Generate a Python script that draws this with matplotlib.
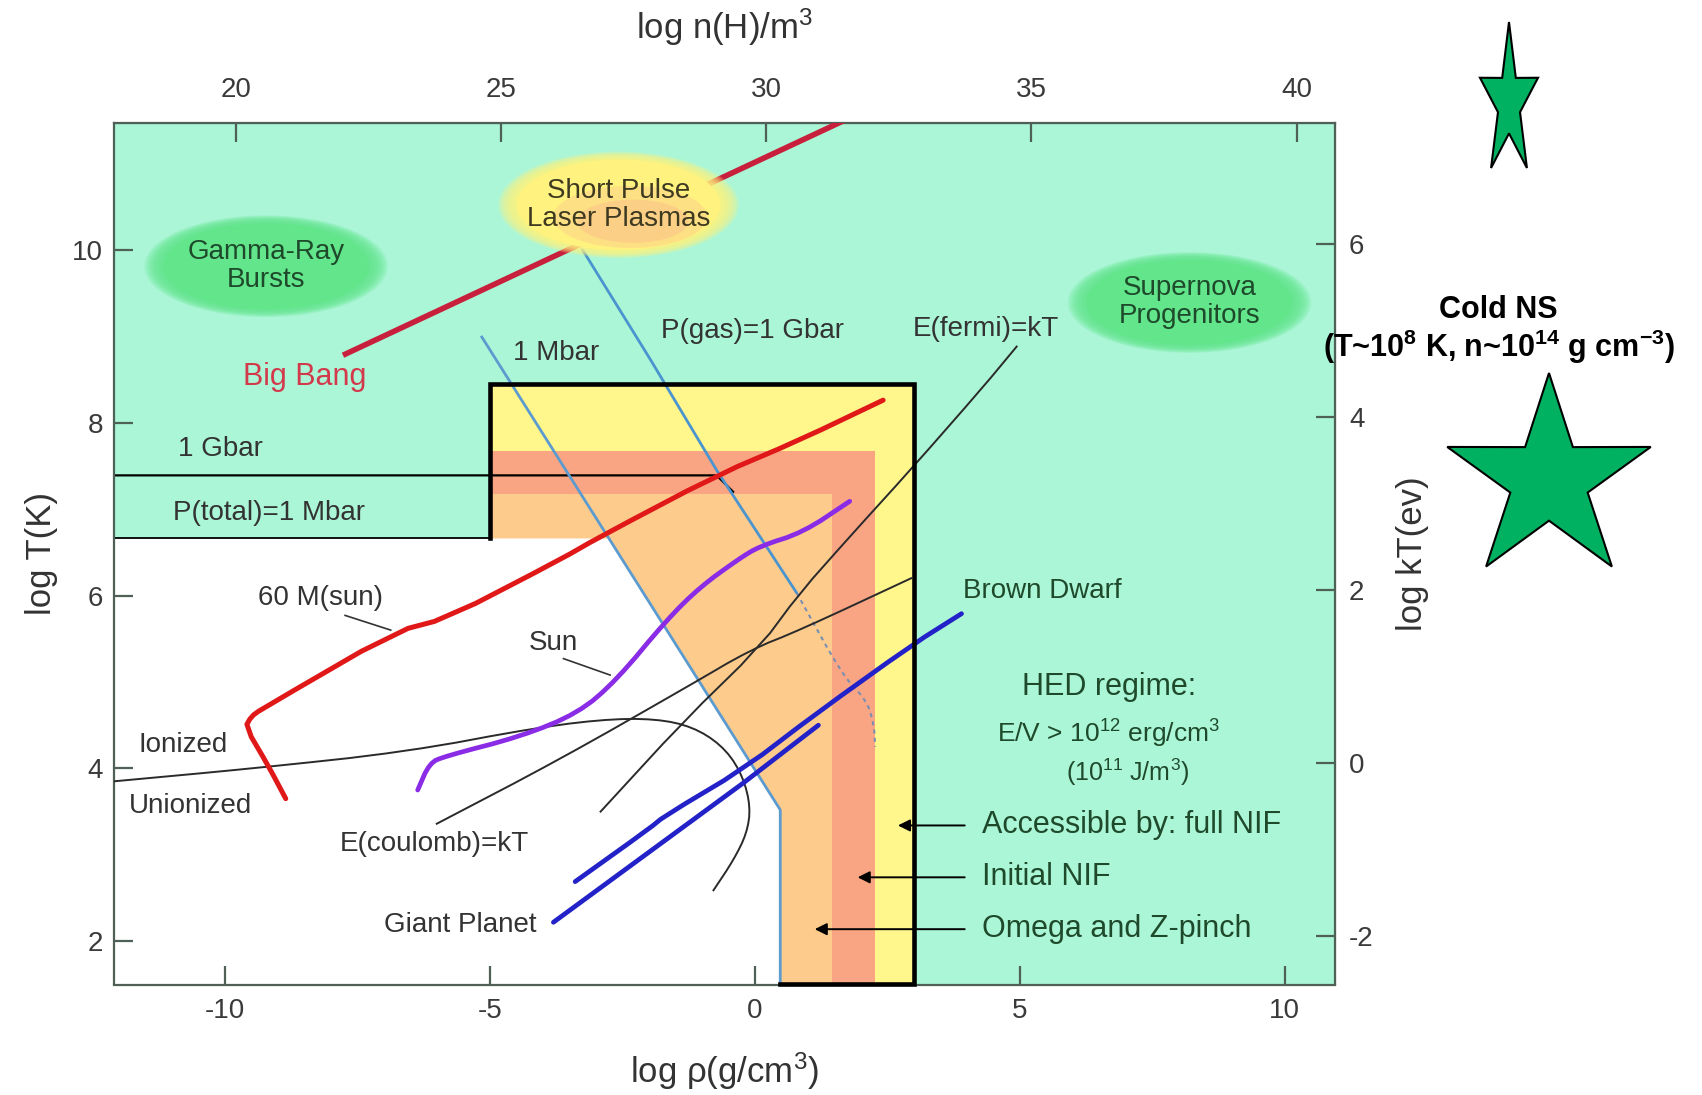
import matplotlib
matplotlib.use('Agg')
import matplotlib.pyplot as plt
from matplotlib.patches import Ellipse, Rectangle, Polygon
import numpy as np

plt.rcParams['font.family'] = ['Liberation Sans', 'DejaVu Sans']
plt.rcParams['mathtext.fontset'] = 'custom'
plt.rcParams['mathtext.rm'] = 'Liberation Sans'
plt.rcParams['mathtext.it'] = 'Liberation Sans:italic'
plt.rcParams['mathtext.bf'] = 'Liberation Sans:bold'
plt.rcParams['axes.unicode_minus'] = False

# axes: log rho (g/cm3) vs log T (K)
x_range = (-12.09, 10.95)
y_range = (1.50, 11.47)
rho_ticks = [-10, -5, 0, 5, 10]
t_ticks = [2, 4, 6, 8, 10]
nh_ticks = [20, 25, 30, 35, 40]
kt_ticks = [-2, 0, 2, 4, 6]
nh_offset = 29.78    # log n(H)/m3 = log rho + offset
kt_offset = 4.065    # log kT(eV) = log T - offset

# HED regions
hed_box = (-5.0, 3.0, 8.45)        # left, right, top
initial_nif = (2.27, 7.67)         # right, top
omega_zpinch = (1.45, 7.18)        # right, top
gbar_level = 7.39
ptotal_level = 6.66

# curves
bigbang_x = [-7.77, 1.70]
bigbang_y = [8.78, 11.50]
msun60_x = [-8.85, -9.17, -9.61, -9.50, -9.32, -6.79, -5.80, -3.69, -2.92, -0.72, 0.85, 2.42]
msun60_y = [3.65, 4.02, 4.48, 4.60, 4.68, 5.58, 5.74, 6.41, 6.68, 7.39, 7.80, 8.26]
sun_x = [-6.36, -6.14, -5.85, -4.41, -3.33, -2.61, -1.66, -1.03, -0.31, 0.09, 0.91, 1.79]
sun_y = [3.75, 4.06, 4.14, 4.37, 4.64, 5.02, 5.72, 6.10, 6.42, 6.57, 6.73, 7.09]
brown_x = [-3.39, -2.0, -1.7, -0.2, 1.17, 2.97, 3.9]
brown_y = [2.69, 3.30, 3.45, 4.00, 4.64, 5.43, 5.79]
giant_x = [-3.80, -0.22, 1.20]
giant_y = [2.22, 3.83, 4.50]
ion_x = [-12.1, -9.46, -6.58, -4.05, -2.61, -1.66, -1.03, -0.53, -0.22, -0.08, -0.15, -0.40, -0.78]
ion_y = [3.85, 4.00, 4.19, 4.48, 4.58, 4.56, 4.44, 4.21, 3.90, 3.55, 3.25, 2.94, 2.59]
coul_x = [-6.0, -3.69, -1.23, -0.09, 0.85, 2.95]
coul_y = [3.36, 4.10, 4.96, 5.37, 5.60, 6.20]
fermi_x = [-2.91, -1.35, 0.10, 0.85, 1.79, 2.96, 4.29, 4.94]
fermi_y = [3.50, 4.54, 5.41, 6.03, 6.68, 7.47, 8.40, 8.88]
mbar_x = [-5.15, 0.48, 0.48]
mbar_y = [8.99, 3.52, 1.50]
pgas_x = [-3.25, -1.97, -0.72, 0.79]
pgas_y = [10.00, 8.73, 7.45, 6.03]
pgas_dot_x = [0.79, 1.67, 2.11, 2.25, 2.27]
pgas_dot_y = [6.03, 5.06, 4.79, 4.50, 4.25]
gbar_x = [-12.1, -0.72, -0.41]
gbar_y = [gbar_level, gbar_level, 7.20]

# facility arrows
facility_names = ['Accessible by: full NIF', 'Initial NIF', 'Omega and Z-pinch']
facility_y = [3.34, 2.74, 2.14]
facility_tip = [2.70, 1.94, 1.13]

aqua = '#abf6d7'
yellow = '#fff68c'
salmon = '#f9a584'
orange = '#fdcb8c'
green = '#62e58b'
spine_c = '#4f6157'
txt = '#333333'
dkgreen = '#1e4a2b'


def chaikin(xs, ys, n=2):
    # corner cutting so the hand drawn curves look smooth
    p = np.column_stack([xs, ys]).astype(float)
    for _ in range(n):
        q = 0.75 * p[:-1] + 0.25 * p[1:]
        r = 0.25 * p[:-1] + 0.75 * p[1:]
        mid = np.empty((2 * len(q), 2))
        mid[0::2] = q
        mid[1::2] = r
        p = np.vstack([p[:1], mid, p[-1:]])
    return p[:, 0], p[:, 1]


fig = plt.figure(figsize=(17.02, 10.95), dpi=100)
ax = fig.add_axes([114 / 1702, 1 - 984.5 / 1095, (1335.2 - 114) / 1702, (984.5 - 122.7) / 1095])
ax.set_xlim(*x_range)
ax.set_ylim(*y_range)
ax.set_facecolor(aqua)
x0, x1 = x_range
y0, y1 = y_range

left, right, top = hed_box
ax.add_patch(Rectangle((left, y0), right - left, top - y0, fc=yellow, ec='none', zorder=1))
ax.add_patch(Rectangle((left, y0), initial_nif[0] - left, initial_nif[1] - y0, fc=salmon, ec='none', zorder=1.1))
ax.add_patch(Rectangle((left, y0), omega_zpinch[0] - left, omega_zpinch[1] - y0, fc=orange, ec='none', zorder=1.2))

# white region below P(total)=1 Mbar
x_edge = np.interp(ptotal_level, mbar_y[::-1], mbar_x[::-1])
white_pts = [(x0 - 1, y0 - 1), (x0 - 1, ptotal_level), (x_edge, ptotal_level)]
white_pts += [(x, y) for x, y in zip(mbar_x, mbar_y) if y < ptotal_level]
white_pts += [(mbar_x[-1], y0 - 1)]
ax.add_patch(Polygon(white_pts, closed=True, fc='white', ec='none', zorder=1.3))

# boundary lines
ax.plot([x0 - 1, left], [ptotal_level, ptotal_level], color='black', lw=1.3, zorder=2)
ax.plot(gbar_x, gbar_y, color='black', lw=1.6, zorder=2)
ax.plot(mbar_x, mbar_y, color='#5b9bd0', lw=2.0, zorder=2.5)
ax.plot(pgas_x, pgas_y, color='#4a94cf', lw=2.0, zorder=2.5)
ax.plot(*chaikin(pgas_dot_x, pgas_dot_y), color='#7a8fb0', lw=1.5, ls=(0, (2, 2)), zorder=2.5)
ax.plot([mbar_x[-1], right, right, left, left], [y0, y0, top, top, ptotal_level],
        color='black', lw=3.3, solid_joinstyle='miter', zorder=4, clip_on=False)

ax.plot(*chaikin(ion_x, ion_y), color='#2a2a2a', lw=1.4, zorder=3)
ax.plot(*chaikin(coul_x, coul_y), color='#2a2a2a', lw=1.4, zorder=3)
ax.plot(*chaikin(fermi_x, fermi_y, 1), color='#2a2a2a', lw=1.4, zorder=3)
ax.plot(bigbang_x, bigbang_y, color='#c8203c', lw=4.0, zorder=3, solid_capstyle='butt')
ax.plot(*chaikin(msun60_x, msun60_y, 1), color='#e01818', lw=3.6, zorder=3.2, solid_capstyle='round')
ax.plot(*chaikin(sun_x, sun_y), color='#8a2be6', lw=3.4, zorder=3.2, solid_capstyle='round')
ax.plot(*chaikin(brown_x, brown_y, 1), color='#2222c8', lw=3.4, zorder=3.2, solid_capstyle='round')
ax.plot(giant_x, giant_y, color='#2222c8', lw=3.4, zorder=3.2, solid_capstyle='round')

# leader lines
ax.plot([-7.73, -6.87], [5.77, 5.60], color='#333333', lw=1.2, zorder=3)
ax.plot([-3.61, -2.73], [5.27, 5.08], color='#333333', lw=1.2, zorder=3)


def soft_ellipse(cx, cy, w, h, color):
    for s in np.linspace(1.12, 0.98, 8):
        ax.add_patch(Ellipse((cx, cy), w * s, h * s, fc=color, ec='none', alpha=0.22, zorder=5))
    ax.add_patch(Ellipse((cx, cy), w * 0.95, h * 0.95, fc=color, ec='none', zorder=5))


soft_ellipse(-9.22, 9.81, 4.1, 1.05, green)
soft_ellipse(8.2, 9.39, 4.1, 1.04, green)
soft_ellipse(-2.57, 10.52, 4.05, 1.10, '#fff27e')
ax.add_patch(Ellipse((-2.35, 10.38), 2.9, 0.72, fc='#fcc68c', ec='none', alpha=0.4, zorder=5.1))
ax.add_patch(Ellipse((-2.3, 10.33), 2.1, 0.5, fc='#fbbf8a', ec='none', alpha=0.5, zorder=5.1))

tk = dict(fontsize=20, zorder=6)
ax.text(-9.22, 9.81, 'Gamma-Ray\nBursts', ha='center', va='center', color=dkgreen, linespacing=1.1, **tk)
ax.text(8.2, 9.39, 'Supernova\nProgenitors', ha='center', va='center', color=dkgreen, linespacing=1.1, **tk)
ax.text(-2.57, 10.52, 'Short Pulse\nLaser Plasmas', ha='center', va='center', color='#3e3a22', linespacing=1.1, **tk)
ax.text(-8.5, 8.53, 'Big Bang', ha='center', va='center', color='#d23a4c', fontsize=22, zorder=6)
ax.text(-3.75, 8.80, '1 Mbar', ha='center', va='center', color=txt, **tk)
ax.text(-0.05, 9.06, 'P(gas)=1 Gbar', ha='center', va='center', color=txt, **tk)
ax.text(4.35, 9.08, 'E(fermi)=kT', ha='center', va='center', color=txt, **tk)
ax.text(-10.08, 7.70, '1 Gbar', ha='center', va='center', color=txt, **tk)
ax.text(-9.16, 6.95, 'P(total)=1 Mbar', ha='center', va='center', color=txt, **tk)
ax.text(-8.2, 5.97, '60 M(sun)', ha='center', va='center', color=txt, **tk)
ax.text(-3.80, 5.45, 'Sun', ha='center', va='center', color=txt, **tk)
ax.text(-10.79, 4.27, 'Ionized', ha='center', va='center', color=txt, **tk)
ax.text(-10.65, 3.57, 'Unionized', ha='center', va='center', color=txt, **tk)
ax.text(-6.05, 3.13, 'E(coulomb)=kT', ha='center', va='center', color=txt, **tk)
ax.text(-5.55, 2.19, 'Giant Planet', ha='center', va='center', color=txt, **tk)
ax.text(5.42, 6.05, 'Brown Dwarf', ha='center', va='center', color=dkgreen, **tk)
ax.text(6.68, 4.94, 'HED regime:', ha='center', va='center', color=dkgreen, fontsize=22, zorder=6)
ax.text(6.68, 4.40, 'E/V > 10$^{12}$ erg/cm$^{3}$', ha='center', va='center', color=dkgreen, fontsize=19, zorder=6)
ax.text(7.03, 3.96, '(10$^{11}$ J/m$^{3}$)', ha='center', va='center', color=dkgreen, fontsize=18, zorder=6)

for name, fy, tip in zip(facility_names, facility_y, facility_tip):
    ax.annotate('', xy=(tip, fy), xytext=(3.96, fy), zorder=6,
                arrowprops=dict(arrowstyle='-|>', color='black', lw=1.4, mutation_scale=18,
                                shrinkA=0, shrinkB=0))
    ax.text(4.29, fy, name, ha='left', va='center', color=dkgreen, fontsize=22, zorder=6)

# axes styling
for sp in ax.spines.values():
    sp.set_color(spine_c)
    sp.set_linewidth(1.6)
tick_kw = dict(direction='in', length=14, width=1.6, color=spine_c, labelsize=20, labelcolor='#3a3a3a')
ax.set_xticks(rho_ticks)
ax.set_yticks(t_ticks)
ax.tick_params(axis='x', pad=10, **tick_kw)
ax.tick_params(axis='y', pad=8, **tick_kw)
ax.set_xlabel('log ρ(g/cm$^{3}$)', fontsize=25, color='#333333', labelpad=19)
ax.set_ylabel('log T(K)', fontsize=25, color='#333333', labelpad=10)

secx = ax.secondary_xaxis('top', functions=(lambda r: r + nh_offset, lambda n: n - nh_offset))
secx.set_xticks(nh_ticks)
secx.tick_params(axis='x', pad=14, **tick_kw)
secx.spines['top'].set_color(spine_c)
secx.set_xlabel('log n(H)/m$^{3}$', fontsize=25, color='#333333', labelpad=28)

secy = ax.secondary_yaxis('right', functions=(lambda t: t - kt_offset, lambda k: k + kt_offset))
secy.set_yticks(kt_ticks)
secy.tick_params(axis='y', pad=10, **tick_kw)
secy.spines['right'].set_color(spine_c)
secy.set_ylabel('log kT(ev)', fontsize=25, color='#333333', labelpad=16)


def star(cx, cy, rx, ry, ratio=0.38):
    pts = []
    for k in range(10):
        ang = np.pi / 2 + k * np.pi / 5
        f = 1.0 if k % 2 == 0 else ratio
        pts.append(((cx + f * rx * np.cos(ang)) / 1702, 1 - (cy - f * ry * np.sin(ang)) / 1095))
    return Polygon(pts, closed=True, transform=fig.transFigure, fc='#00b161', ec='black', lw=1.5)


fig.patches.append(star(1509, 102.7, 30.5, 80.7))
fig.patches.append(star(1549, 480, 107, 107))
fig.text(1498 / 1702, 1 - 310 / 1095, 'Cold NS', ha='center', va='center', fontsize=22, fontweight='bold')
fig.text(1499 / 1702, 1 - 347 / 1095, r'(T~10$^{\mathbf{8}}$ K, n~10$^{\mathbf{14}}$ g cm$^{\mathbf{-3}}$)',
         ha='center', va='center', fontsize=22, fontweight='bold')

fig.savefig('out.png', dpi=100)
